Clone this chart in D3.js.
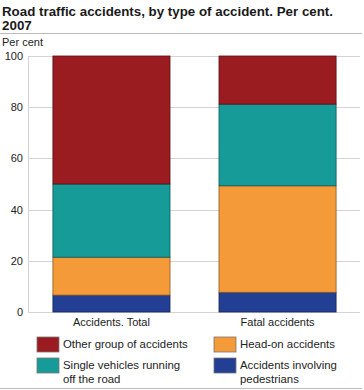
<!DOCTYPE html>
<html><head><meta charset="utf-8">
<script src="https://cdn.jsdelivr.net/npm/d3@7"></script>
<style>
body{margin:0;background:#fff;}
svg{display:block;font-family:"Liberation Sans",Arial,sans-serif;}
</style></head>
<body><svg id="c" width="364" height="390"></svg>
<script>
const categories = ["Accidents. Total", "Fatal accidents"];
const seriesNames = ["Accidents involving pedestrians", "Head-on accidents", "Single vehicles running off the road", "Other group of accidents"];
const pedestrians = [6.6, 7.7];
const headOn = [14.8, 41.6];
const singleVehicles = [28.6, 31.9];
const otherGroup = [50.0, 18.8];
const yTicks = [0, 20, 40, 60, 80, 100];
const colors = ["#233f94", "#f59a38", "#169b99", "#9a1c20"];
const strokes = ["#14245a", "#8a5a20", "#0c5a58", "#5a1012"];

const svg = d3.select("#c");
svg.append("text").attr("x",2).attr("y",15.5).attr("font-size",13.4).attr("font-weight","bold").attr("fill","#1a1a1a")
  .attr("textLength",331).attr("lengthAdjust","spacingAndGlyphs").text("Road traffic accidents, by type of accident. Per cent.");
svg.append("text").attr("x",2).attr("y",29.5).attr("font-size",13.4).attr("font-weight","bold").attr("fill","#1a1a1a").text("2007");
svg.append("line").attr("x1",0).attr("x2",362).attr("y1",33.5).attr("y2",33.5).attr("stroke","#bbb");
svg.append("text").attr("x",2).attr("y",46).attr("font-size",11).attr("fill","#222").text("Per cent");

const y = d3.scaleLinear().domain([0,100]).range([312,56]);
const x = d3.scaleBand().domain(categories).range([28,361]).paddingInner(0.295).paddingOuter(0.15);

const g = svg.append("g");
g.selectAll("line.grid").data(yTicks).join("line").attr("class","grid")
  .attr("x1",28).attr("x2",360).attr("y1",d=>Math.round(y(d))+0.5).attr("y2",d=>Math.round(y(d))+0.5)
  .attr("stroke","#d4d4d4");
g.append("line").attr("x1",28.5).attr("x2",28.5).attr("y1",y(100)).attr("y2",y(0)).attr("stroke","#d4d4d4");

const yAxis = d3.axisLeft(y).tickValues(yTicks).tickSize(0).tickPadding(5);
const ya = svg.append("g").attr("transform","translate(28,0)").call(yAxis);
ya.select(".domain").remove();
ya.selectAll("text").attr("font-size",11).attr("fill","#222").attr("font-family","Liberation Sans, Arial, sans-serif");

const rows = categories.map((c,i)=>({cat:c, vals:[pedestrians[i], headOn[i], singleVehicles[i], otherGroup[i]]}));
const stack = d3.stack().keys([0,1,2,3]).value((d,k)=>d.vals[k]);
const series = stack(rows);
series.forEach((s,k)=>{
  svg.append("g").selectAll("rect").data(s).join("rect")
    .attr("x",d=>x(d.data.cat)).attr("width",x.bandwidth())
    .attr("y",d=>y(d[1])).attr("height",d=>y(d[0])-y(d[1]))
    .attr("fill",colors[k]).attr("stroke",strokes[k]).attr("stroke-width",0.8);
});

const xAxis = d3.axisBottom(x).tickSize(0).tickPadding(6);
const xa = svg.append("g").attr("transform","translate(0,312)").call(xAxis);
xa.select(".domain").remove();
xa.selectAll("text").attr("font-size",11).attr("fill","#222").attr("font-family","Liberation Sans, Arial, sans-serif");

const legend = [
  {k:3, x:37, y:337, lines:["Other group of accidents"]},
  {k:1, x:214, y:337, lines:["Head-on accidents"]},
  {k:2, x:37, y:358, lines:["Single vehicles running","off the road"]},
  {k:0, x:214, y:358, lines:["Accidents involving","pedestrians"]}
];
const lg = svg.append("g").selectAll("g").data(legend).join("g");
lg.append("rect").attr("x",d=>d.x).attr("y",d=>d.y).attr("width",22).attr("height",15)
  .attr("fill",d=>colors[d.k]).attr("stroke","#777").attr("stroke-width",0.8);
lg.each(function(d){
  const t = d3.select(this).append("text").attr("font-size",11.4).attr("fill","#222");
  d.lines.forEach((l,i)=>t.append("tspan").attr("x",d.x+26).attr("y",d.y+11+i*14).text(l));
});
svg.append("line").attr("x1",0).attr("x2",362).attr("y1",388.5).attr("y2",388.5).attr("stroke","#bbb");
</script></body></html>
